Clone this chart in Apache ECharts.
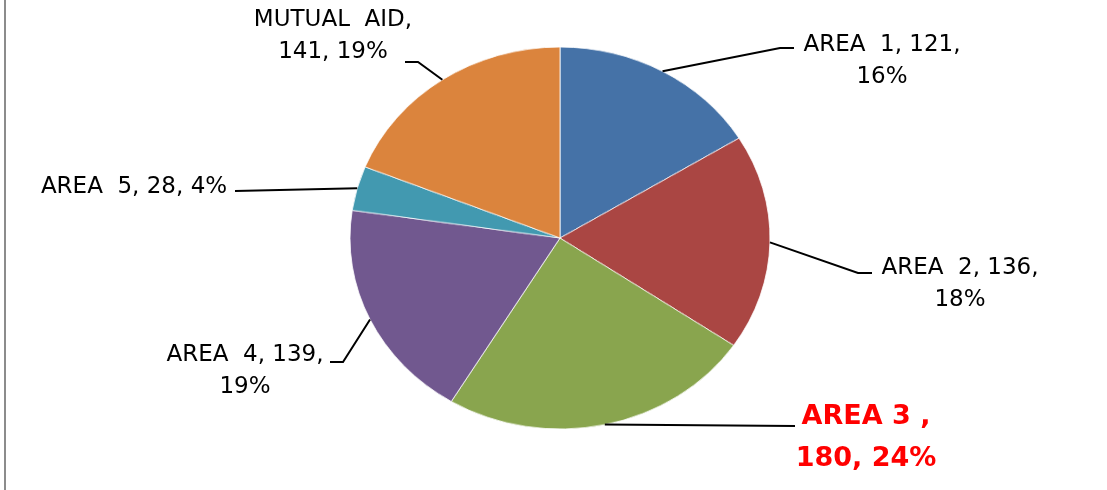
<!DOCTYPE html>
<html>
<head>
<meta charset="utf-8">
<script src="https://cdn.jsdelivr.net/npm/echarts@6/dist/echarts.min.js"></script>
<style>
  html, body { margin: 0; padding: 0; background: #fff; }
  #wrap { position: relative; width: 1107px; height: 490px; overflow: hidden; }
  #frame { position: absolute; left: 4px; top: 0; width: 2px; height: 490px; background: #8c8c8c; }
  #pie { position: absolute; left: 0; top: 0; width: 1107px; height: 490px;
         transform-origin: 560px 238px; transform: scaleY(0.9095); }
  #labels { position: absolute; left: 0; top: 0; width: 1107px; height: 490px; }
</style>
</head>
<body>
<div id="wrap">
  <div id="frame"></div>
  <div id="pie"></div>
  <div id="labels"></div>
</div>
<script>
// ---- data ----
const categories = ['AREA  1', 'AREA  2', 'AREA 3 ', 'AREA  4', 'AREA  5', 'MUTUAL  AID'];
const values = [121, 136, 180, 139, 28, 141];
const colors = ['#4572A7', '#AA4643', '#89A54E', '#71588F', '#4299B0', '#DB843D'];
const highlightIndex = 2; // AREA 3 shown in red bold

// ---- layout (label placement; styles only) ----
const CX = 560, CY = 238, RX = 210, RY = 191;
const squash = RY / RX;
const labelPlace = [
  { x: 882, y: 61,  pts: [[780, 48], [794, 48]], brk: 'value' },
  { x: 960, y: 284, pts: [[858, 273], [872, 273]], brk: 'value' },
  { x: 866, y: 438, pts: [[795, 426], [795, 426]], brk: 'name' },
  { x: 245, y: 371, pts: [[343, 362], [330, 362]], brk: 'value' },
  { x: 134, y: 187, pts: [[235, 191], [235, 191]], brk: 'none' },
  { x: 333, y: 36,  pts: [[418, 62], [405, 62]], brk: 'name' }
];

const pieData = categories.map((c, i) => ({ name: c, value: values[i], itemStyle: { color: colors[i] } }));

// Chart 1: the pie slices (vertically squashed into an ellipse)
const pieChart = echarts.init(document.getElementById('pie'), null, { renderer: 'canvas' });
pieChart.setOption({
  animation: false,
  series: [{
    type: 'pie',
    center: [CX, CY],
    radius: RX,
    startAngle: 90,
    clockwise: true,
    silent: true,
    label: { show: false },
    labelLine: { show: false },
    itemStyle: { borderColor: '#ffffff', borderWidth: 0.8 },
    data: pieData
  }]
});

// Chart 2: labels and leader lines (same data, invisible slices)
const labelChart = echarts.init(document.getElementById('labels'), null, { renderer: 'canvas' });
const labelData = categories.map((c, i) => {
  const d = { name: c, value: values[i], itemStyle: { color: 'rgba(0,0,0,0)' } };
  if (i === highlightIndex) {
    d.label = { color: '#FF0000', fontWeight: 'bold', fontSize: 27, lineHeight: 42 };
  }
  return d;
});
labelChart.setOption({
  animation: false,
  series: [{
    type: 'pie',
    center: [CX, CY],
    radius: RX,
    startAngle: 90,
    clockwise: true,
    silent: true,
    avoidLabelOverlap: false,
    itemStyle: { borderWidth: 0 },
    label: {
      show: true,
      position: 'outside',
      color: '#000000',
      fontFamily: 'DejaVu Sans',
      fontSize: 23,
      lineHeight: 32,
      align: 'center',
      formatter: function (p) {
        const pct = Math.round(p.percent) + '%';
        const b = labelPlace[p.dataIndex].brk;
        if (b === 'value') return p.name + ', ' + p.value + ',\n' + pct;
        if (b === 'name') return p.name + ',\n' + p.value + ', ' + pct;
        return p.name + ', ' + p.value + ', ' + pct;
      }
    },
    labelLine: { show: true, smooth: false, lineStyle: { color: '#000000', width: 2 } },
    labelLayout: function (params) {
      const lp = labelPlace[params.dataIndex];
      const s = params.labelLinePoints ? params.labelLinePoints[0] : [CX, CY];
      const start = [s[0], CY + (s[1] - CY) * squash];
      return {
        x: lp.x,
        y: lp.y,
        align: 'center',
        verticalAlign: 'middle',
        labelLinePoints: [start, lp.pts[0], lp.pts[1]]
      };
    },
    data: labelData
  }]
});
</script>
</body>
</html>
